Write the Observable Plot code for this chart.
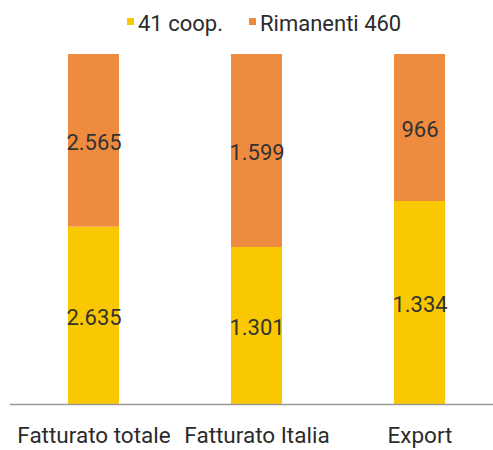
<!DOCTYPE html>
<html>
<head>
<meta charset="utf-8">
<script src="https://cdn.jsdelivr.net/npm/d3@7"></script>
<script src="https://cdn.jsdelivr.net/npm/@observablehq/plot@0.6"></script>
<style>
  html, body { margin: 0; padding: 0; background: #fff; }
  body { width: 493px; height: 450px; overflow: hidden; font-family: Roboto, "Liberation Sans", sans-serif; }
  #legend { position: relative; height: 45px; font-size: 22px; color: #2b2b2b; }
  #legend .item { position: absolute; top: 12px; white-space: nowrap; line-height: 24px; }
  #legend .sw { position: absolute; width: 7px; height: 7px; top: 6px; }
  #legend .lbl { position: absolute; left: 11px; top: 0; }
</style>
</head>
<body>
<div id="legend"></div>
<div id="chart"></div>
<script>
const categories = ["Fatturato totale", "Fatturato Italia", "Export"];
const seriesNames = ["41 coop.", "Rimanenti 460"];
const coopValues = [2635, 1301, 1334];
const rimanentiValues = [2565, 1599, 966];
const seriesColors = ["#fac800", "#ef8b3f"];

const data = [
  ...categories.map((c, i) => ({category: c, series: seriesNames[0], value: coopValues[i]})),
  ...categories.map((c, i) => ({category: c, series: seriesNames[1], value: rimanentiValues[i]}))
];

const it = d3.formatLocale({decimal: ",", thousands: ".", grouping: [3], currency: ["", " €"]});
const fmt = it.format(",");

// legend
const legend = document.getElementById("legend");
const legendX = [127, 249];
seriesNames.forEach((s, i) => {
  const item = document.createElement("div");
  item.className = "item";
  item.style.left = legendX[i] + "px";
  item.innerHTML = `<span class="sw" style="background:${seriesColors[i]}"></span><span class="lbl">${s}</span>`;
  legend.appendChild(item);
});

const chart = Plot.plot({
  width: 493,
  height: 405,
  marginTop: 9,
  marginBottom: 46,
  marginLeft: 10,
  marginRight: 0,
  style: {fontFamily: "Roboto, 'Liberation Sans', sans-serif", background: "#fff"},
  x: {domain: categories, range: [10, 502], paddingInner: 0.688, paddingOuter: 0.349, label: null},
  y: {axis: null, domain: [0, 1]},
  color: {domain: seriesNames, range: seriesColors},
  marks: [
    Plot.barY(data, Plot.stackY({offset: "normalize", x: "category", y: "value", fill: "series", order: seriesNames})),
    Plot.text(data, Plot.stackY({offset: "normalize", x: "category", y: "value", z: "series", order: seriesNames, text: d => fmt(d.value), fill: "#333", fontSize: 22, dy: 2})),
    Plot.ruleY([0], {stroke: "#9a9a9a", strokeWidth: 1.5}),
    Plot.axisX({tickSize: 0, tickPadding: 23, fontSize: 22.5, color: "#2b2b2b", label: null})
  ]
});
document.getElementById("chart").appendChild(chart);
</script>
</body>
</html>
